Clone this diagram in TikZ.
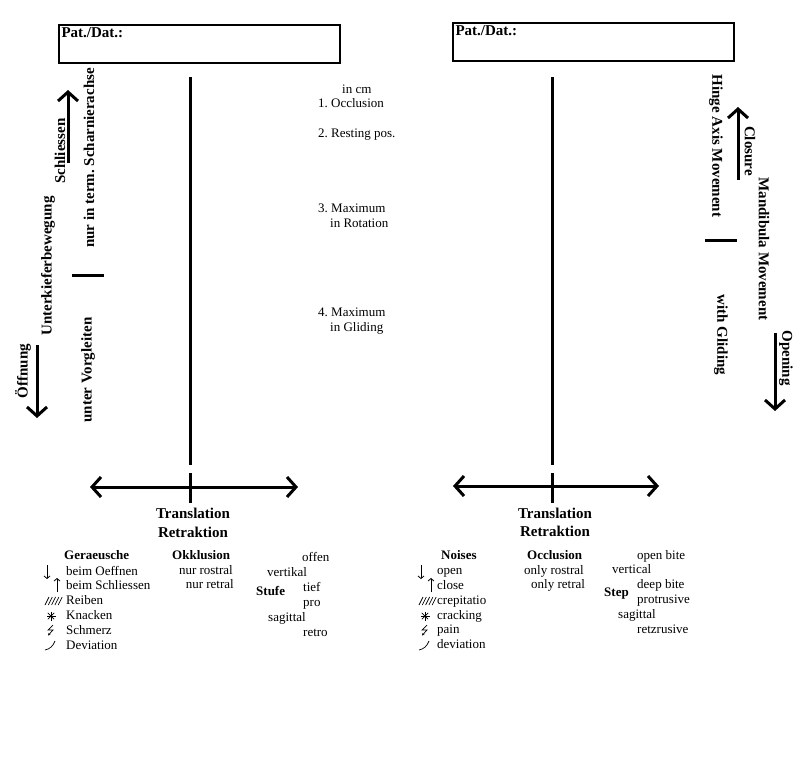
\documentclass[tikz,border=0pt]{standalone}
\usepackage{fontspec}
\setmainfont{Liberation Serif}
\usetikzlibrary{arrows.meta}

\begin{document}
\frenchspacing
\begin{tikzpicture}[x=1pt,y=-1pt,
		>={Straight Barb[length=9pt,width=20pt]},
		axis/.style={line width=3pt},
		arr/.style={line width=3pt,->},
		patbox/.style={draw,line width=1.3pt,minimum width=281pt,minimum height=38pt,inner sep=0pt},
		big/.style={font=\fontsize{15}{17}\selectfont\bfseries,inner sep=0pt},
		head/.style={font=\fontsize{13}{15}\selectfont\bfseries,inner sep=0pt,text height=9pt,text depth=2.5pt},
		small/.style={font=\fontsize{13}{15}\selectfont,inner sep=0pt,text height=9pt,text depth=2.5pt},
		thinsym/.style={line width=0.7pt},
		tinyarr/.style={line width=0.8pt,-{Straight Barb[length=2.5pt,width=6pt]}}]
	\useasboundingbox (0,0) rectangle (800,769);

	% German chart
	\node (boxL) [patbox] at (199.5,44) {};
	\node (patL) [big,anchor=north west] at ([shift={(3,3)}]boxL.north west) {Pat./Dat.:};
	\coordinate (topL) at (190,77);
	\coordinate (midL) at (190,465);
	\coordinate (lowL) at (190,473);
	\coordinate (botL) at (190,503);
	\draw[axis] (topL) -- (midL) (lowL) -- (botL);
	\coordinate (leftL) at (90,487);
	\coordinate (rightL) at (298,487);
	\draw[arr,<->] (leftL) -- (rightL);
	\node (transL) [big] at (193,513) {Translation};
	\node (retrL) [big] at (193,532) {Retraktion};

	\node (schl) [big,rotate=90] at (60,151) {Schliessen};
	\coordinate (schlB) at (68,163);
	\coordinate (schlT) at (68,90);
	\draw[arr] (schlB) -- (schlT);
	\node (term) [big,rotate=90] at (89,158) {nur in term. Scharnierachse};
	\node (ukb) [big,rotate=90] at (48,266) {Unterkieferbewegung};
	\coordinate (barLa) at (72,275);
	\coordinate (barLb) at (104,275);
	\draw[axis] (barLa) -- (barLb);
	\node (vorg) [big,rotate=90] at (88,370) {unter Vorgleiten};
	\node (oeff) [big,rotate=90] at (23,371) {Öffnung};
	\coordinate (oeffT) at (37,345);
	\coordinate (oeffB) at (37,418);
	\draw[arr] (oeffT) -- (oeffB);

	\node (incm) [small,anchor=west] at (342,90) {in cm};
	\node (pos1) [small,anchor=west] at (318,104) {1. Occlusion};
	\node (pos2) [small,anchor=west] at (318,134) {2. Resting pos.};
	\node (pos3) [small,anchor=west] at (318,209) {3. Maximum};
	\node (pos3b) [small,anchor=west] at (330,224) {in Rotation};
	\node (pos4) [small,anchor=west] at (318,313) {4. Maximum};
	\node (pos4b) [small,anchor=west] at (330,328) {in Gliding};

	% English chart
	\node (boxR) [patbox] at (593.5,42) {};
	\node (patR) [big,anchor=north west] at ([shift={(3,3)}]boxR.north west) {Pat./Dat.:};
	\coordinate (topR) at (552,77);
	\coordinate (midR) at (552,465);
	\coordinate (lowR) at (552,473);
	\coordinate (botR) at (552,503);
	\draw[axis] (topR) -- (midR) (lowR) -- (botR);
	\coordinate (leftR) at (453,486);
	\coordinate (rightR) at (659,486);
	\draw[arr,<->] (leftR) -- (rightR);
	\node (transR) [big] at (555,513) {Translation};
	\node (retrR) [big] at (555,531) {Retraktion};

	\node (hinge) [big,rotate=-90] at (716,146) {Hinge Axis Movement};
	\node (clos) [big,rotate=-90] at (750,151) {Closure};
	\coordinate (closB) at (738,180);
	\coordinate (closT) at (738,107);
	\draw[arr] (closB) -- (closT);
	\coordinate (barRa) at (705,240);
	\coordinate (barRb) at (737,240);
	\draw[axis] (barRa) -- (barRb);
	\node (mand) [big,rotate=-90] at (764,249) {Mandibula Movement};
	\node (glid) [big,rotate=-90] at (721,335) {with Gliding};
	\node (open) [big,rotate=-90] at (786,358) {Opening};
	\coordinate (openT) at (775,333);
	\coordinate (openB) at (775,411);
	\draw[arr] (openT) -- (openB);

	% legends
	\node (ger) [head,anchor=west] at (64,556) {Geraeusche};
	\foreach \t [count=\i] in {beim Oeffnen,beim Schliessen,Reiben,Knacken,Schmerz,Deviation}
		\node (gerL\i) [small,anchor=west] at (66,557+\i*14.8) {\t};
	\node (okkl) [head,anchor=west] at (172,556) {Okklusion};
	\node (rostL) [small,anchor=east] at (233,571) {nur rostral};
	\node (retL) [small,anchor=east] at (234,585) {nur retral};
	\node (offen) [small,anchor=west] at (302,558) {offen};
	\node (vertL) [small,anchor=west] at (267,573) {vertikal};
	\node (tief) [small,anchor=west] at (303,588) {tief};
	\node (stufe) [head,anchor=west] at (256,592) {Stufe};
	\node (pro) [small,anchor=west] at (303,603) {pro};
	\node (sagL) [small,anchor=west] at (268,618) {sagittal};
	\node (retro) [small,anchor=west] at (303,633) {retro};

	\node (noi) [head,anchor=west] at (441,556) {Noises};
	\foreach \t [count=\i] in {open,close,crepitatio,cracking,pain,deviation}
		\node (noiR\i) [small,anchor=west] at (437,557+\i*14.7) {\t};
	\node (occl) [head,anchor=west] at (527,556) {Occlusion};
	\node (rostR) [small,anchor=west] at (524,571) {only rostral};
	\node (retR) [small,anchor=west] at (531,585) {only retral};
	\node (obite) [small,anchor=west] at (637,556) {open bite};
	\node (vertR) [small,anchor=west] at (612,570) {vertical};
	\node (dbite) [small,anchor=west] at (637,585) {deep bite};
	\node (step) [head,anchor=west] at (604,593) {Step};
	\node (protr) [small,anchor=west] at (637,600) {protrusive};
	\node (sagR) [small,anchor=west] at (618,615) {sagittal};
	\node (retz) [small,anchor=west] at (637,630) {retzrusive};

	\foreach \sx/\sn in {44/L,418/R}{
		\coordinate (dnT\sn) at (\sx+3,565);
		\coordinate (dnB\sn) at (\sx+3,579);
		\draw[tinyarr] (dnT\sn) -- (dnB\sn);
		\coordinate (upB\sn) at (\sx+13,592);
		\coordinate (upT\sn) at (\sx+13,578);
		\draw[tinyarr] (upB\sn) -- (upT\sn);
		\foreach \k in {0,...,4}
			\draw[thinsym] (\sx+1+\k*3.3,605) -- (\sx+5+\k*3.3,597);
		\coordinate (ast\sn) at (\sx+7,616);
		\foreach \a in {0,45,90,135}
			\draw[thinsym] (ast\sn) ++(\a:4.5) -- ++(\a+180:9);
		\draw[thinsym,-{Stealth[length=2.5pt,width=2.5pt]}] (\sx+9,625) -- (\sx+4,630) -- (\sx+9,630) -- (\sx+4,635.5);
		\draw[thinsym] (\sx+1,650) .. controls (\sx+6,649) and (\sx+9,646) .. (\sx+11,641);
	}
\end{tikzpicture}
\end{document}
